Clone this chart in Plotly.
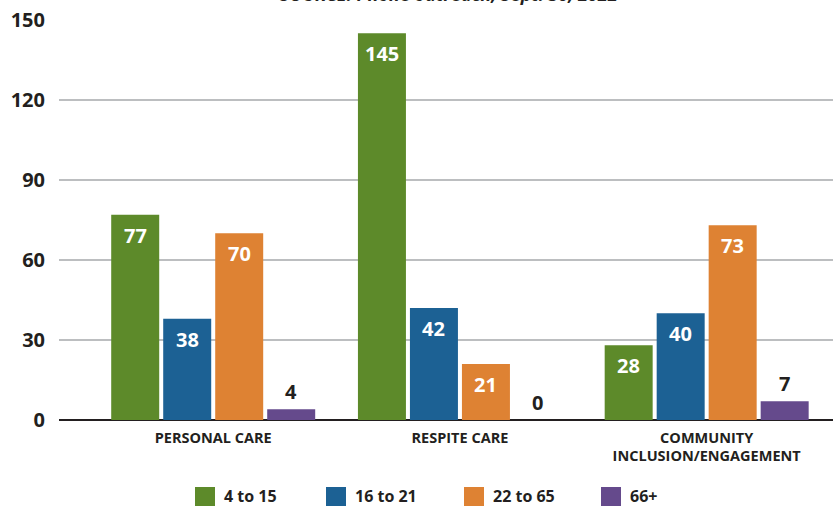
import plotly.graph_objects as go

# Service categories and age-group counts
categories = ["PERSONAL CARE", "RESPITE CARE", "COMMUNITY<br>INCLUSION/ENGAGEMENT"]
age_groups = ["4 to 15", "16 to 21", "22 to 65", "66+"]
ages_4_15 = [77, 145, 28]
ages_16_21 = [38, 42, 40]
ages_22_65 = [70, 21, 73]
ages_66_plus = [4, 0, 7]
series_values = [ages_4_15, ages_16_21, ages_22_65, ages_66_plus]
colors = ["#5d8a2a", "#1c6194", "#de8233", "#654a8c"]
y_ticks = [0, 30, 60, 90, 120, 150]

FONT = "Open Sans"
DARK = "#231f20"

W, H = 833, 506
M_L, M_R, M_T, M_B = 59, 0, 20, 86
X_RANGE = [-0.625, 2.512]
Y_RANGE = [0, 150]
BARGAP = 0.157
GROUPGAP = 0.077

plot_w = W - M_L - M_R
plot_h = H - M_T - M_B
cat_px = plot_w / (X_RANGE[1] - X_RANGE[0])
slot_px = cat_px * (1 - BARGAP) / len(age_groups)
px_per_unit = plot_h / (Y_RANGE[1] - Y_RANGE[0])

fig = go.Figure()
for name, vals, col in zip(age_groups, series_values, colors):
    fig.add_trace(go.Bar(
        name=name, x=categories, y=vals,
        marker=dict(color=col, line=dict(width=0)),
        showlegend=False,
    ))

# Value labels: white inside tall bars, dark above short ones
annotations = []
for i, vals in enumerate(series_values):
    shift = (i - (len(age_groups) - 1) / 2) * slot_px
    for cat, v in zip(categories, vals):
        inside = v * px_per_unit > 32
        annotations.append(dict(
            x=cat, y=v, xref="x", yref="y", text=f"<b>{v}</b>",
            showarrow=False, xshift=shift,
            yanchor="top" if inside else "bottom",
            yshift=-5 if inside else 2,
            font=dict(family=FONT, size=20, color="white" if inside else DARK),
        ))

# Source line along the top edge
annotations.append(dict(
    x=(449 - M_L) / plot_w, y=1, xref="paper", yref="paper",
    text="<b><i>SOURCE: Phone outreach, Sept. 30, 2022</i></b>",
    showarrow=False, xanchor="center", yanchor="bottom", yshift=12,
    font=dict(family=FONT, size=18, color=DARK),
))

# Legend drawn as swatches with labels
shapes = []
swatch_x = [195, 326, 464, 601]
sw_top, sw_bot = 487, 506
for name, col, sx in zip(age_groups, colors, swatch_x):
    shapes.append(dict(
        type="rect", xref="paper", yref="paper",
        x0=(sx - M_L) / plot_w, x1=(sx + 20 - M_L) / plot_w,
        y0=(M_T + plot_h - sw_bot) / plot_h, y1=(M_T + plot_h - sw_top) / plot_h,
        fillcolor=col, line=dict(width=0),
    ))
    annotations.append(dict(
        x=(sx + 27 - M_L) / plot_w, y=(M_T + plot_h - 496) / plot_h,
        xref="paper", yref="paper", text=f"<b>{name}</b>",
        showarrow=False, xanchor="left", yanchor="middle",
        font=dict(family=FONT, size=16, color=DARK),
    ))

fig.update_layout(
    width=W, height=H,
    margin=dict(l=M_L, r=M_R, t=M_T, b=M_B),
    paper_bgcolor="white", plot_bgcolor="white",
    barmode="group", bargap=BARGAP, bargroupgap=GROUPGAP,
    showlegend=False,
    annotations=annotations, shapes=shapes,
    font=dict(family=FONT, color=DARK),
)
fig.update_xaxes(
    type="category", range=X_RANGE, showgrid=False, showline=False,
    ticks="", ticklabelstandoff=7,
    tickfont=dict(family=FONT, size=14.5, color=DARK, weight=700),
)
fig.update_yaxes(
    range=Y_RANGE, tickvals=y_ticks, showgrid=True,
    gridcolor="#bcbec0", gridwidth=1.5,
    zeroline=True, zerolinecolor=DARK, zerolinewidth=2,
    showline=False, ticks="", ticklabelstandoff=13,
    tickfont=dict(family=FONT, size=20, color=DARK, weight=700),
)

fig.write_html("out.html")
